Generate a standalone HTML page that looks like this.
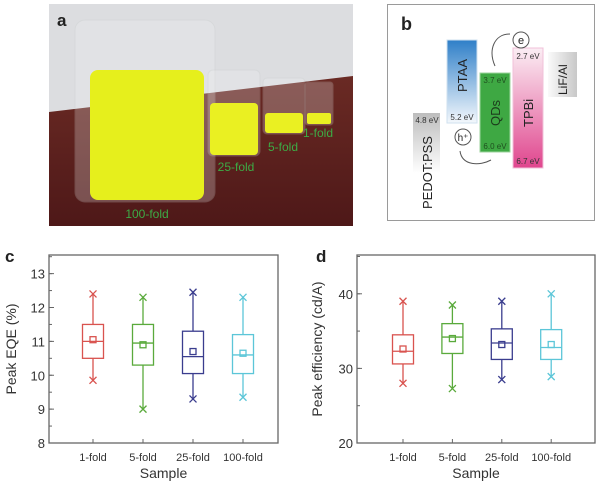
<!DOCTYPE html>
<html><head><meta charset="utf-8"><style>
html,body{margin:0;padding:0;background:#fff;width:600px;height:490px;overflow:hidden}
svg{display:block;font-family:"Liberation Sans",sans-serif}
</style></head><body>
<svg id="fig" width="600" height="490" viewBox="0 0 600 490" xmlns="http://www.w3.org/2000/svg">
<defs>
<linearGradient id="ptaa" x1="0" y1="0" x2="0" y2="1"><stop offset="0" stop-color="#2f7fc8"/><stop offset="1" stop-color="#f4f8fc"/></linearGradient>
<linearGradient id="tpbi" x1="0" y1="0" x2="0" y2="1"><stop offset="0" stop-color="#fbeef4"/><stop offset="1" stop-color="#e0468e"/></linearGradient>
<linearGradient id="pedot" x1="0" y1="0" x2="0" y2="1"><stop offset="0" stop-color="#bdbdbd"/><stop offset="1" stop-color="#ffffff"/></linearGradient>
<linearGradient id="lif" x1="1" y1="0" x2="0" y2="0"><stop offset="0" stop-color="#c8c8c8"/><stop offset="1" stop-color="#fafafa"/></linearGradient>
<linearGradient id="table" x1="0" y1="0" x2="0" y2="1"><stop offset="0" stop-color="#6a2a24"/><stop offset="1" stop-color="#4e1818"/></linearGradient>
</defs>

<g>
<rect x="49" y="4" width="304" height="222" fill="#dcdde0"/>
<polygon points="49,112 353,76 353,226 49,226" fill="url(#table)"/>
<rect x="75" y="20" width="140" height="182" rx="10" fill="#f2f4f4" opacity="0.25" stroke="#c8cccc"/>
<rect x="90" y="70" width="114" height="130" rx="8" fill="#e6ef1c"/>
<rect x="208" y="70" width="52" height="86" rx="5" fill="#f2f4f4" opacity="0.25" stroke="#c8cccc"/>
<rect x="210" y="103" width="48" height="52" rx="4" fill="#eaf022"/>
<rect x="263" y="78" width="42" height="56" rx="4" fill="#f2f4f4" opacity="0.25" stroke="#c8cccc"/>
<rect x="265" y="113" width="38" height="20" rx="3" fill="#eaf022"/>
<rect x="305" y="82" width="28" height="43" rx="3" fill="#f2f4f4" opacity="0.25" stroke="#c8cccc"/>
<rect x="307" y="113" width="24" height="11" rx="2" fill="#eaf022"/>
<text x="57" y="26" font-size="17" font-weight="bold" fill="#222">a</text>
<text x="147" y="218" font-size="12" fill="#3dab45" text-anchor="middle">100-fold</text>
<text x="236" y="171" font-size="12" fill="#3dab45" text-anchor="middle">25-fold</text>
<text x="283" y="151" font-size="12" fill="#3dab45" text-anchor="middle">5-fold</text>
<text x="318" y="137" font-size="12" fill="#3dab45" text-anchor="middle">1-fold</text>
</g>

<g font-size="8">
<rect x="387.5" y="4.5" width="207" height="216" fill="#fff" stroke="#9a9a9a"/>
<text x="401" y="30" font-size="18" font-weight="bold" fill="#222">b</text>
<rect x="413" y="113" width="27" height="60" fill="url(#pedot)"/>
<text x="427" y="123" text-anchor="middle" fill="#333">4.8 eV</text>
<text transform="translate(432,209) rotate(-90)" font-size="13" fill="#222">PEDOT:PSS</text>
<rect x="447" y="40" width="30" height="83" fill="url(#ptaa)" stroke="#cfe0ef"/>
<text transform="translate(467,92) rotate(-90)" font-size="13" fill="#222">PTAA</text>
<text x="462" y="120" text-anchor="middle" fill="#333">5.2 eV</text>
<rect x="480" y="73" width="30" height="79" fill="#3ea843" stroke="#9cd39c"/>
<text x="495" y="83" text-anchor="middle" fill="#1f4f1f">3.7 eV</text>
<text transform="translate(500,126) rotate(-90)" font-size="13" fill="#1c3c1c">QDs</text>
<text x="495" y="149" text-anchor="middle" fill="#1f4f1f">6.0 eV</text>
<rect x="513" y="48" width="30" height="120" fill="url(#tpbi)" stroke="#f0c0d8"/>
<text x="528" y="59" text-anchor="middle" fill="#333">2.7 eV</text>
<text transform="translate(533,127) rotate(-90)" font-size="13" fill="#222">TPBi</text>
<text x="528" y="164" text-anchor="middle" fill="#333">6.7 eV</text>
<rect x="548" y="52" width="29" height="45" fill="url(#lif)"/>
<text transform="translate(567,95) rotate(-90)" font-size="12" fill="#222">LiF/Al</text>
<circle cx="521" cy="40" r="8" fill="#fff" stroke="#555"/>
<text x="521" y="44" text-anchor="middle" font-size="11" fill="#222">e</text>
<circle cx="463" cy="137" r="8" fill="#fff" stroke="#555"/>
<text x="463" y="141" text-anchor="middle" font-size="10" fill="#222">h⁺</text>
<path d="M510,34 C494,34 488,50 495,66" fill="none" stroke="#555"/>
<path d="M460,151 C462,166 480,166 491,160" fill="none" stroke="#555"/>
</g>

<g id="panelC"></g>
<g id="panelD"></g>
</svg>
<script>
var categories = ["1-fold", "5-fold", "25-fold", "100-fold"];
var colors = ["#d9534f", "#5aaa3c", "#3a3d8e", "#5cc6d8"];
var eqeMax = [12.4, 12.3, 12.45, 12.3];
var eqeQ3 = [11.5, 11.5, 11.3, 11.2];
var eqeMedian = [11.0, 10.95, 10.55, 10.6];
var eqeMean = [11.05, 10.9, 10.7, 10.65];
var eqeQ1 = [10.5, 10.3, 10.05, 10.05];
var eqeMin = [9.85, 9.0, 9.3, 9.35];
var eqeTicks = [8, 9, 10, 11, 12, 13];
var effMax = [39, 38.5, 39, 40];
var effQ3 = [34.5, 36, 35.3, 35.2];
var effMedian = [32.3, 34.2, 33.4, 32.8];
var effMean = [32.6, 34.0, 33.2, 33.2];
var effQ1 = [30.6, 32, 31.2, 31.2];
var effMin = [28, 27.3, 28.5, 28.9];
var effTicks = [20, 30, 40];

var NS = "http://www.w3.org/2000/svg";
function mk(parent, tag, attrs, text) {
  var e = document.createElementNS(NS, tag);
  for (var k in attrs) e.setAttribute(k, attrs[k]);
  if (text !== undefined) e.textContent = text;
  parent.appendChild(e);
  return e;
}
function drawPanel(g, o) {
  var L = o.left, R = o.right, T = 255, B = 443;
  function y(v) { return B - (v - o.ymin) / (o.ymax - o.ymin) * (B - T); }
  function x(i) { return o.x0 + o.dx * i; }
  var frame = mk(g, "rect", {x: L, y: T, width: R - L, height: B - T, fill: "none", stroke: "#666", "stroke-width": 1.3});
  
  
  var lab = mk(g, "text", {x: o.labelX, y: 262, "font-size": 17, "font-weight": "bold", fill: "#222"}, o.label);
  
  
  o.ticks.forEach(function (t) {
    mk(g, "line", {x1: L, x2: L + 5, y1: y(t), y2: y(t), stroke: "#666"});
    var tl = mk(g, "text", {x: L - 4, y: y(t) + 5, "text-anchor": "end", "font-size": 13, fill: "#333"}, t);
    
    
  });
  for (var m = o.ymin + o.minor; m < o.ymax; m += o.minor) {
    mk(g, "line", {x1: L, x2: L + 3, y1: y(m), y2: y(m), stroke: "#666"});
  }
  var yt = mk(g, "text", {transform: "translate(" + o.ytx + ",349) rotate(-90)", "text-anchor": "middle", "font-size": 14, fill: "#333"}, o.ytitle);
  
  
  var xt = mk(g, "text", {x: (L + R) / 2, y: 478, "text-anchor": "middle", "font-size": 14, fill: "#333"}, "Sample");
  
  
  categories.forEach(function (c, i) {
    var cx = x(i), col = colors[i], w = 10.5;
    mk(g, "line", {x1: cx, x2: cx, y1: B, y2: B - 4, stroke: "#666"});
    var xl = mk(g, "text", {x: cx, y: 461, "text-anchor": "middle", "font-size": 11, fill: "#333"}, c);
    
    
    var bg = mk(g, "g", {stroke: col, fill: "none", "stroke-width": 1.3});
    
    
    mk(bg, "line", {x1: cx, x2: cx, y1: y(o.max[i]), y2: y(o.q3[i])});
    mk(bg, "line", {x1: cx, x2: cx, y1: y(o.q1[i]), y2: y(o.min[i])});
    mk(bg, "rect", {x: cx - w, y: y(o.q3[i]), width: 2 * w, height: y(o.q1[i]) - y(o.q3[i])});
    mk(bg, "line", {x1: cx - w, x2: cx + w, y1: y(o.med[i]), y2: y(o.med[i])});
    mk(bg, "rect", {x: cx - 3, y: y(o.mean[i]) - 3, width: 6, height: 6});
    [o.max[i], o.min[i]].forEach(function (v) {
      mk(bg, "path", {d: "M" + (cx - 3.5) + "," + (y(v) - 3.5) + "l7,7M" + (cx + 3.5) + "," + (y(v) - 3.5) + "l-7,7"});
    });
  });
}
drawPanel(document.getElementById("panelC"), {
  left: 49, right: 278, ymin: 8, ymax: 13.55, minor: 0.5, x0: 93, dx: 50,
  ticks: eqeTicks, label: "c", labelX: 5, ytx: 16, ytitle: "Peak EQE (%)",
  max: eqeMax, q3: eqeQ3, med: eqeMedian, mean: eqeMean, q1: eqeQ1, min: eqeMin
});
drawPanel(document.getElementById("panelD"), {
  left: 357, right: 595, ymin: 20, ymax: 45.2, minor: 5, x0: 403, dx: 49.4,
  ticks: effTicks, label: "d", labelX: 316, ytx: 322, ytitle: "Peak efficiency (cd/A)",
  max: effMax, q3: effQ3, med: effMedian, mean: effMean, q1: effQ1, min: effMin
});
</script>
</body></html>
